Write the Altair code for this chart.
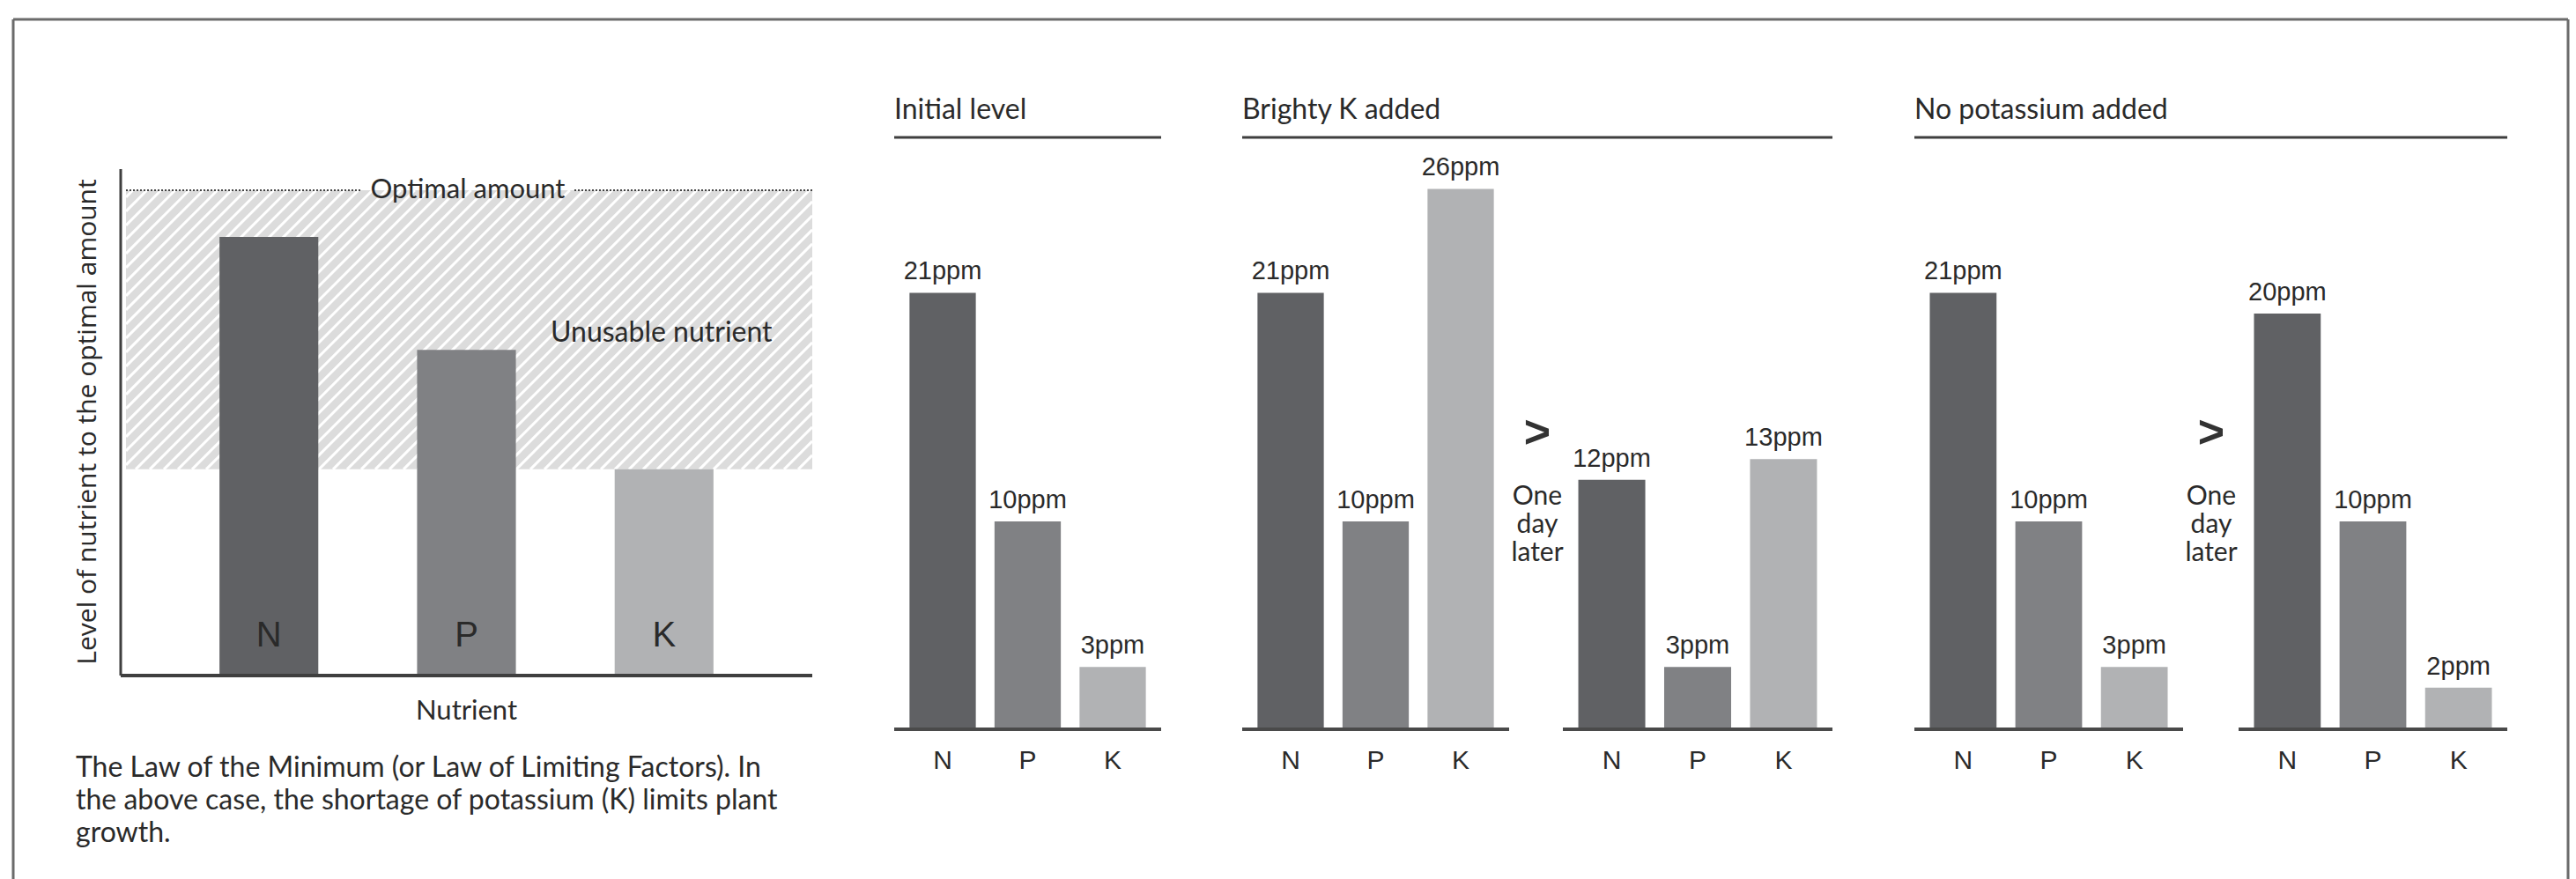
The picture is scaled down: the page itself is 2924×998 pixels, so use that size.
import altair as alt
import pandas as pd

# ---------------- data ----------------
nutrients = ["N", "P", "K"]
law_levels = [90.4, 67.1, 42.5]          # level relative to optimal amount (=100)
optimal_level = 100
panel_titles = ["Initial level", "Brighty K added", "No potassium added"]
initial_ppm = [21, 10, 3]
brighty_ppm = [21, 10, 26]
brighty_later_ppm = [12, 3, 13]
nopot_ppm = [21, 10, 3]
nopot_later_ppm = [20, 10, 2]
unit = "ppm"
law_y_title = "Level of nutrient to the optimal amount"
law_x_title = "Nutrient"
optimal_label = "Optimal amount"
unusable_label = "Unusable nutrient"
caption_lines = [
    "The Law of the Minimum (or Law of Limiting Factors). In",
    "the above case, the shortage of potassium (K) limits plant",
    "growth.",
]
later_lines = ["One", "day", "later"]
arrow_label = ">"

# ---------------- styles ----------------
H = 998
TEXT = "#2a2a2a"
FRAME = "#6b6b6b"
LINE = "#3f3f3f"
SANS = "Liberation Sans, Arial, sans-serif"
HUMAN = "Lato, Open Sans, sans-serif"
law_colors = ["#606164", "#808184", "#b1b2b4"]
panel_colors = ["#636467", "#838487", "#b3b4b6"]

one = pd.DataFrame({"k": [0]})

# left diagram scales
LAW_BASE = 767
LAW_PPU = 5.51
law_y = alt.Scale(domain=[-(H - LAW_BASE) / LAW_PPU, LAW_BASE / LAW_PPU], nice=False, zero=False)
law_x = alt.Scale(type="band", domain=nutrients, paddingInner=0.5, paddingOuter=0.5)
L1W = 785


def blank(width):
    return alt.Chart(one).mark_rule(opacity=0).encode(
        x=alt.value(0), x2=alt.value(1), y=alt.value(0)
    ).properties(width=width, height=H)


# ---- L0: frame, y title, caption
frame_top = alt.Chart(one).mark_rule(color=FRAME, strokeWidth=3).encode(
    x=alt.value(15), x2=alt.value(2915), y=alt.value(22))
frame_left = alt.Chart(one).mark_rule(color=FRAME, strokeWidth=3).encode(
    x=alt.value(15), y=alt.value(22), y2=alt.value(H))
frame_right = alt.Chart(one).mark_rule(color=FRAME, strokeWidth=3).encode(
    x=alt.value(2915), y=alt.value(22), y2=alt.value(H))
ytitle = alt.Chart(one).mark_text(
    text=law_y_title, font="Open Sans", fontSize=30, angle=270, color=TEXT,
    align="center", baseline="middle").encode(x=alt.value(100), y=alt.value(479))
caption = alt.Chart(one).mark_text(
    text=caption_lines, font=HUMAN, fontSize=32, lineHeight=37, color=TEXT,
    align="left", baseline="alphabetic").encode(x=alt.value(86), y=alt.value(882))
L0 = alt.layer(frame_top, frame_left, frame_right, ytitle, caption).properties(width=137, height=H)

# ---- L1: law of the minimum diagram
law_df = pd.DataFrame({"nutrient": nutrients, "level": law_levels})
limiting = min(law_levels)
bounds_df = pd.DataFrame({"lo": [limiting], "hi": [optimal_level]})

hatch_bg = alt.Chart(bounds_df).mark_rect(color="#dcdcdc").encode(
    x=alt.value(6), x2=alt.value(L1W),
    y=alt.Y("lo:Q", scale=law_y, axis=None), y2="hi:Q")

xmax_u = L1W / LAW_PPU
x0_u = 6 / LAW_PPU
step_u = 16 / LAW_PPU
stripes = alt.Chart(
    alt.sequence(limiting - xmax_u, optimal_level - x0_u + step_u, step_u, as_="d")
).transform_calculate(
    sx1=f"max({x0_u}, {limiting} - datum.d)",
    sx2=f"min({xmax_u}, {optimal_level} - datum.d)",
).transform_calculate(
    sy1="datum.sx1 + datum.d", sy2="datum.sx2 + datum.d"
).transform_filter("datum.sx2 > datum.sx1").mark_rule(color="white", strokeWidth=3).encode(
    x=alt.X("sx1:Q", scale=alt.Scale(domain=[0, xmax_u], nice=False, zero=False), axis=None),
    x2="sx2:Q",
    y=alt.Y("sy1:Q", scale=law_y, axis=None), y2="sy2:Q")

law_base = alt.Chart(law_df).transform_calculate(base="0")
law_bars = law_base.mark_bar().encode(
    x=alt.X("nutrient:N", scale=law_x, axis=None),
    y=alt.Y("level:Q", scale=law_y, axis=None), y2="base:Q",
    color=alt.Color("nutrient:N", scale=alt.Scale(domain=nutrients, range=law_colors), legend=None))
law_letters = law_base.mark_text(font=SANS, fontSize=40, color=TEXT, baseline="middle").encode(
    x=alt.X("nutrient:N", scale=law_x, axis=None), y=alt.value(722), text="nutrient:N")

opt = alt.Chart(one).transform_calculate(opt=str(optimal_level))
dot1 = opt.mark_rule(color="#444", strokeWidth=2, strokeDash=[2, 2]).encode(
    x=alt.value(6), x2=alt.value(273), y=alt.Y("opt:Q", scale=law_y, axis=None))
dot2 = opt.mark_rule(color="#444", strokeWidth=2, strokeDash=[2, 2]).encode(
    x=alt.value(515), x2=alt.value(L1W), y=alt.Y("opt:Q", scale=law_y, axis=None))
opt_text = opt.mark_text(text=optimal_label, font=HUMAN, fontSize=31, color=TEXT,
                         align="center", baseline="middle").encode(
    x=alt.value(394), y=alt.Y("opt:Q", scale=law_y, axis=None))
unusable = alt.Chart(one).mark_text(text=unusable_label, font=HUMAN, fontSize=32, color=TEXT,
                                    align="left", baseline="middle").encode(
    x=alt.value(488), y=alt.value(378))
xtitle = alt.Chart(one).mark_text(text=law_x_title, font=HUMAN, fontSize=31, color=TEXT,
                                  align="center", baseline="middle").encode(
    x=alt.value(L1W / 2), y=alt.value(808))
yaxis = alt.Chart(one).mark_rule(color=LINE, strokeWidth=3).encode(
    x=alt.value(0), y=alt.value(192), y2=alt.value(LAW_BASE))
xaxis = alt.Chart(one).mark_rule(color=LINE, strokeWidth=4).encode(
    x=alt.value(0), x2=alt.value(L1W), y=alt.value(LAW_BASE))

L1 = alt.layer(hatch_bg, stripes, law_bars, law_letters, dot1, dot2, opt_text, unusable,
               xtitle, yaxis, xaxis).resolve_scale(x="independent").properties(width=L1W, height=H)

# ---- panels
P_BASE = 828
P_PPU = 23.6
ppm_y = alt.Scale(domain=[-(H - P_BASE) / P_PPU, P_BASE / P_PPU], nice=False, zero=False)
panel_x = alt.Scale(type="band", domain=nutrients, paddingInner=0.22, paddingOuter=0.18)


def panel(values, width, title=None, underline=None):
    df = pd.DataFrame({"nutrient": nutrients, "ppm": values})
    base = alt.Chart(df).transform_calculate(base="0", label=f"datum.ppm + '{unit}'")
    xenc = alt.X("nutrient:N", scale=panel_x, axis=None)
    bars = base.mark_bar().encode(
        x=xenc, y=alt.Y("ppm:Q", scale=ppm_y, axis=None), y2="base:Q",
        color=alt.Color("nutrient:N", scale=alt.Scale(domain=nutrients, range=panel_colors), legend=None))
    labels = base.mark_text(font=SANS, fontSize=29, color=TEXT, baseline="alphabetic", dy=-15).encode(
        x=xenc, y=alt.Y("ppm:Q", scale=ppm_y, axis=None), text="label:N")
    ticks = base.mark_text(font=SANS, fontSize=30, color=TEXT, baseline="middle").encode(
        x=xenc, y=alt.value(864), text="nutrient:N")
    axis_line = alt.Chart(one).mark_rule(color="#4a4a4a", strokeWidth=4).encode(
        x=alt.value(0), x2=alt.value(width), y=alt.value(P_BASE))
    layers = [bars, labels, ticks, axis_line]
    if title is not None:
        layers.append(alt.Chart(one).mark_text(text=title, font=HUMAN, fontSize=32, color=TEXT,
                                               align="left", baseline="alphabetic").encode(
            x=alt.value(0), y=alt.value(135)))
        layers.append(alt.Chart(one).mark_rule(color=LINE, strokeWidth=3).encode(
            x=alt.value(0), x2=alt.value(underline), y=alt.value(156)))
    return alt.layer(*layers).properties(width=width, height=H)


def later_gap(width):
    arrow = alt.Chart(one).mark_text(text=arrow_label, font=SANS, fontWeight="bold", fontSize=52,
                                     color="#333", align="center", baseline="middle").encode(
        x=alt.value(32), y=alt.value(492))
    later = alt.Chart(one).mark_text(text=later_lines, font=HUMAN, fontSize=30, lineHeight=32,
                                     color=TEXT, align="center", baseline="alphabetic").encode(
        x=alt.value(32), y=alt.value(573))
    return alt.layer(arrow, later).properties(width=width, height=H)


P1 = panel(initial_ppm, 303, panel_titles[0], 303)
P2 = panel(brighty_ppm, 303, panel_titles[1], 670)
P3 = panel(brighty_later_ppm, 306)
P4 = panel(nopot_ppm, 305, panel_titles[2], 673)
P5 = panel(nopot_later_ppm, 305)

chart = alt.hconcat(
    L0, L1, blank(93), P1, blank(92), P2, later_gap(61), P3, blank(93), P4, later_gap(63), P5, blank(78),
    spacing=0, bounds="flush"
).properties(padding=0).configure_view(stroke=None)

chart.save("out.html", embed_options={"renderer": "svg", "actions": False})
